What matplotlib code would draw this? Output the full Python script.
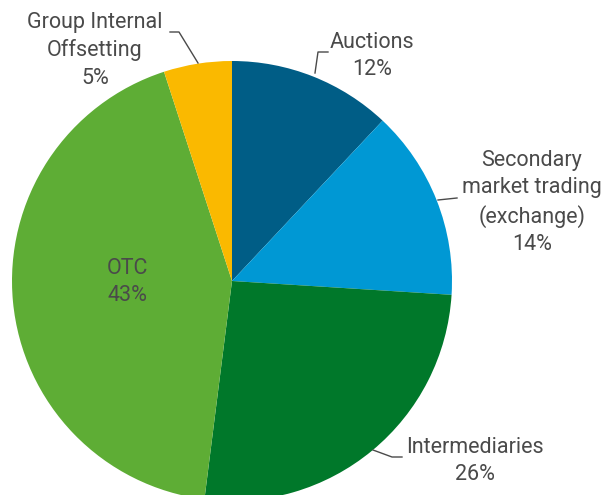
import matplotlib
matplotlib.use('Agg')
from matplotlib import pyplot as plt

# data
labels=['Auctions','Secondary\nmarket trading\n(exchange)','Intermediaries','OTC','Group Internal\nOffsetting']
shares=[12,14,26,43,5]
colors=['#005d86','#0098d4','#00782a','#5ead35','#fab900']

W,H=608,495
fig=plt.figure(figsize=(W/100.,H/100.),dpi=100)
ax=fig.add_axes([0,0,1,1])
cx,cy,r=232,H-281,220
ax.pie(shares,colors=colors,startangle=90,counterclock=False,center=(cx,cy),radius=r,
       wedgeprops=dict(linewidth=0))
ax.set_xlim(0,W);ax.set_ylim(0,H)
ax.set_aspect('equal')
ax.axis('off')

tc='#4a4a4a'
fs=15.5
def lab(x,y,txt):
    ax.text(x,H-y,txt,ha='center',va='top',fontsize=fs,color=tc,family='Roboto',linespacing=1.38)
# label text positions (pixel coords, top of first line)
pos=[(372,32),(532,150),(475,437),(127,258),(95,12)]
for k in range(len(labels)):
    lab(pos[k][0],pos[k][1],labels[k]+'\n'+str(shares[k])+'%')

# leader lines
def line(xs,ys):
    ax.plot(xs,[H-y for y in ys],color=tc,lw=1.0)
line([315,318,328],[73,52,52])
line([438,457],[200,198])
line([373,392,402],[450,457,457])
line([170,179,198],[32,32,63])

fig.savefig('out.png',dpi=100)
